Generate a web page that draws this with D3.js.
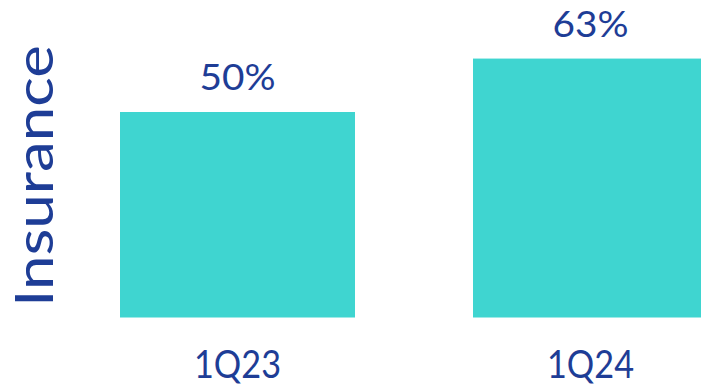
<!DOCTYPE html>
<html>
<head>
<meta charset="utf-8">
<script src="https://cdn.jsdelivr.net/npm/d3@7"></script>
<style>
  html, body { margin: 0; padding: 0; background: #ffffff; }
  svg { display: block; }
</style>
</head>
<body>
<script>
// Quarterly insurance share
const categories = ["1Q23", "1Q24"];
const values = [50, 63];
const valueLabels = ["50%", "63%"];
const axisTitle = "Insurance";

const W = 701, H = 387;
const barColor = "#3fd5d0";
const textColor = "#1e3d96";
const fontFamily = "Lato, 'Noto Sans', sans-serif";

const svg = d3.select("body").append("svg")
  .attr("width", W).attr("height", H);

const x = d3.scaleBand()
  .domain(categories)
  .range([120, 708])
  .paddingInner(118 / 353)
  .paddingOuter(0);

const y = d3.scaleLinear()
  .domain([0, 50])
  .range([317.5, 112]);

// Bars
svg.selectAll("rect.bar")
  .data(values)
  .join("rect")
  .attr("class", "bar")
  .attr("x", (d, i) => x(categories[i]))
  .attr("y", d => y(d))
  .attr("width", x.bandwidth())
  .attr("height", d => y(0) - y(d))
  .attr("fill", barColor);

// Value labels above bars
svg.selectAll("text.value")
  .data(values)
  .join("text")
  .attr("class", "value")
  .attr("x", (d, i) => x(categories[i]) + x.bandwidth() / 2)
  .attr("y", d => y(d) - 22)
  .attr("text-anchor", "middle")
  .attr("font-family", fontFamily)
  .attr("font-size", 36)
  .attr("textLength", 76)
  .attr("lengthAdjust", "spacingAndGlyphs")
  .attr("fill", textColor)
  .text((d, i) => valueLabels[i]);

// Category labels
const xAxis = d3.axisBottom(x).tickSize(0).tickPadding(0);
const gx = svg.append("g")
  .attr("transform", `translate(0, 378)`)
  .call(xAxis);
gx.select(".domain").remove();
gx.selectAll("text")
  .attr("dy", 0)
  .attr("font-family", fontFamily)
  .attr("font-size", 38)
  .attr("textLength", 87)
  .attr("lengthAdjust", "spacingAndGlyphs")
  .attr("fill", textColor);

// Rotated title
svg.append("text")
  .attr("transform", "translate(53, 307) rotate(-90)")
  .attr("text-anchor", "start")
  .attr("font-family", fontFamily)
  .attr("font-size", 53)
  .attr("textLength", 262)
  .attr("lengthAdjust", "spacingAndGlyphs")
  .attr("fill", textColor)
  .text(axisTitle);
</script>
</body>
</html>
